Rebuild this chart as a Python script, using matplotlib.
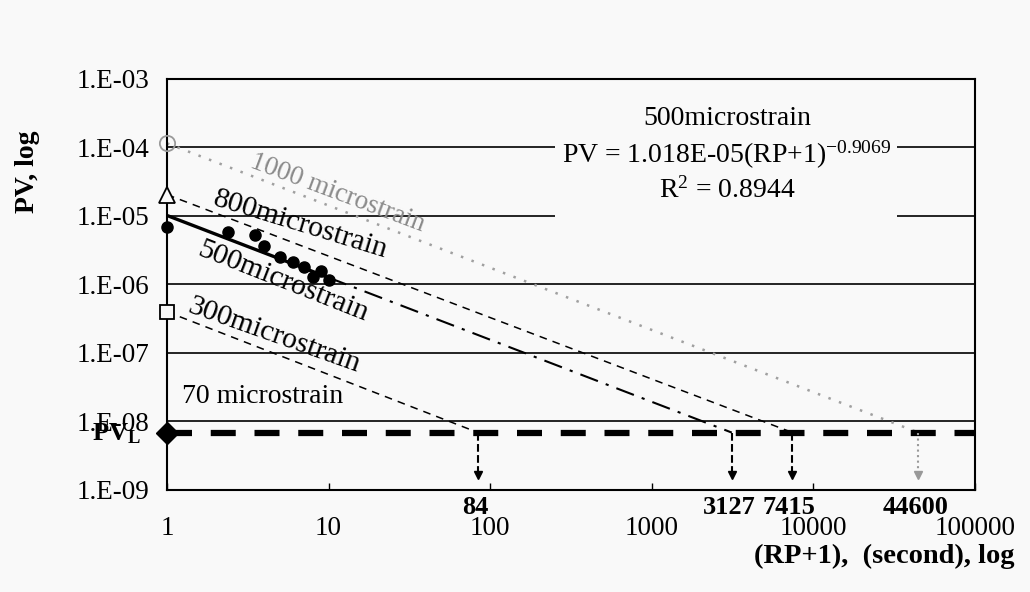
import numpy as np
import matplotlib.pyplot as plt
from matplotlib.patches import Rectangle
from matplotlib.ticker import FixedLocator, FuncFormatter, NullLocator

plt.rcParams['font.family'] = 'Liberation Serif'
plt.rcParams['mathtext.fontset'] = 'custom'
plt.rcParams['mathtext.rm'] = 'Liberation Serif'
plt.rcParams['mathtext.it'] = 'Liberation Serif:italic'
plt.rcParams['mathtext.bf'] = 'Liberation Serif:bold'

bg = '#f9f9f9'

# plastic-deformation limit PV_L
pv_limit = 6.9e-9

# power-law fit for the 500 microstrain test
fit_a = 1.018e-05
fit_b = -0.9069
fit_r2 = 0.8944

# measured PV at 500 microstrain
rp_measured = [1, 2.4, 3.5, 4, 5, 6, 7, 8, 9, 10]
pv_measured = [7.0e-6, 5.9e-6, 5.2e-6, 3.6e-6, 2.5e-6, 2.1e-6, 1.8e-6, 1.3e-6, 1.55e-6, 1.15e-6]

# PV at RP+1 = 1 and the repetitions where each strain level reaches PV_L
strains = [1000, 800, 500, 300]
pv_start = [1.15e-4, 2.05e-5, fit_a, 4.0e-7]
rp_at_limit = [44600, 7415, 3127, 84]

x_ticks = [1, 10, 100, 1000, 10000, 100000]
y_ticks = [1e-9, 1e-8, 1e-7, 1e-6, 1e-5, 1e-4, 1e-3]

fig, ax = plt.subplots(figsize=(10.3, 5.92), dpi=100)
fig.patch.set_facecolor(bg)
ax.set_facecolor(bg)
fig.subplots_adjust(left=0.1621, right=0.9466, bottom=0.1723, top=0.8666)

ax.set_xscale('log')
ax.set_yscale('log')
ax.set_xlim(1, 1e5)
ax.set_ylim(1e-9, 1e-3)

# 1000 microstrain
ax.plot([1, rp_at_limit[0]], [pv_start[0], pv_limit], color='#a0a0a0', ls=(0, (1, 3.5)), lw=1.8)
# 800 microstrain
ax.plot([1, rp_at_limit[1]], [pv_start[1], pv_limit], color='k', ls=(0, (5, 4)), lw=1.1)
# 500 microstrain: fit over the measured range, then extrapolated
rp_fit = np.logspace(0, 1, 20)
ax.plot(rp_fit, fit_a * rp_fit ** fit_b, color='k', lw=2.4)
rp_ext = np.logspace(1, np.log10(rp_at_limit[2]), 40)
ax.plot(rp_ext, fit_a * rp_ext ** fit_b, color='k', ls=(0, (9, 4, 1.5, 4)), lw=1.5)
# 300 microstrain
ax.plot([1, rp_at_limit[3]], [pv_start[3], pv_limit], color='k', ls=(0, (5, 4)), lw=1.1)

# PV_L line
ax.axhline(pv_limit, color='k', lw=4.5, ls=(0, (4, 3)), zorder=3)

# markers on the PV axis
ax.plot(1, pv_start[0], 'o', mfc='none', mec='#999999', ms=11, mew=1.3, clip_on=False, zorder=5)
ax.plot(1, pv_start[1], '^', mfc=bg, mec='k', ms=11, mew=1.3, clip_on=False, zorder=5)
ax.plot(1, pv_start[3], 's', mfc=bg, mec='k', ms=10, mew=1.3, clip_on=False, zorder=5)
ax.plot(1, pv_limit, 'D', color='k', ms=11, clip_on=False, zorder=5)
ax.plot(rp_measured, pv_measured, 'o', color='k', ms=8, clip_on=False, zorder=5)

# arrows down from PV_L to the repetition axis
arrow_tip = 1.65e-9
for rp in rp_at_limit:
    c = '#999999' if rp == rp_at_limit[0] else 'k'
    ls = ':' if rp == rp_at_limit[0] else '--'
    ax.plot([rp, rp], [pv_limit, arrow_tip], color=c, ls=ls, lw=1.5, zorder=4)
    ax.plot(rp, arrow_tip, marker='v', color=c, ms=6, zorder=4)
    ax.annotate(str(rp), xy=(rp, 0), xycoords=('data', 'axes fraction'),
                xytext=(-3, -18), textcoords='offset pixels', ha='center', va='center',
                fontsize=19, fontweight='bold')

# strain labels
ax.text(11.3, 2.14e-5, '1000 microstrain', rotation=-20.5, rotation_mode='anchor',
        color='#8a8a8a', ha='center', va='center', fontsize=19.5)
ax.text(6.65, 7.5e-6, '800microstrain', rotation=-17, rotation_mode='anchor',
        ha='center', va='center', fontsize=21.5)
ax.text(5.22, 1.1e-6, '500microstrain', rotation=-21.5, rotation_mode='anchor',
        ha='center', va='center', fontsize=21.5)
ax.text(4.59, 1.79e-7, '300microstrain', rotation=-19.5, rotation_mode='anchor',
        ha='center', va='center', fontsize=21.5)
ax.text(1.24, 2.3e-8, '70 microstrain', ha='left', va='center', fontsize=20)

# fit equation on a blank panel that hides the grid behind it
ax.add_patch(Rectangle((0.480, 0.646), 0.4235, 0.317, transform=ax.transAxes,
                       fc=bg, ec='none', zorder=2))
eq = (f'{strains[2]}microstrain\n'
      f'PV = {fit_a:.3E}(RP+1)$^{{\\mathrm{{{fit_b}}}}}$\n'
      f'R$^2$ = {fit_r2}')
ax.text(0.693, 0.815, eq, transform=ax.transAxes, ha='center', va='center',
        multialignment='center', fontsize=20, linespacing=1.3, zorder=4)

ax.annotate(r'$\mathbf{PV_L}$', xy=(1, pv_limit), xytext=(-26, -1),
            textcoords='offset pixels', ha='right', va='center', fontsize=19)

# axes, ticks and grid
ax.xaxis.set_major_locator(FixedLocator(x_ticks))
ax.xaxis.set_minor_locator(NullLocator())
ax.xaxis.set_major_formatter(FuncFormatter(lambda v, p: f'{v:.0f}'))
ax.yaxis.set_major_locator(FixedLocator(y_ticks))
ax.yaxis.set_minor_locator(NullLocator())
ax.yaxis.set_major_formatter(FuncFormatter(lambda v, p: f'1.E-{round(-np.log10(v)):02d}'))
ax.tick_params(axis='x', direction='in', length=5, width=1, pad=19, labelsize=19.5)
ax.tick_params(axis='y', length=0, pad=13, labelsize=19.5)
ax.grid(axis='y', color='k', lw=1.2)
for s in ax.spines.values():
    s.set_linewidth(1.5)

fig.text(28 / 1030, 1 - 172 / 592, 'PV, log', rotation=90, ha='center', va='center',
         fontsize=20, fontweight='bold')
fig.text(1015 / 1030, 1 - 556 / 592, '(RP+1),  (second), log', ha='right', va='center',
         fontsize=20.5, fontweight='bold')

fig.savefig('out.png', dpi=100, facecolor=bg)
